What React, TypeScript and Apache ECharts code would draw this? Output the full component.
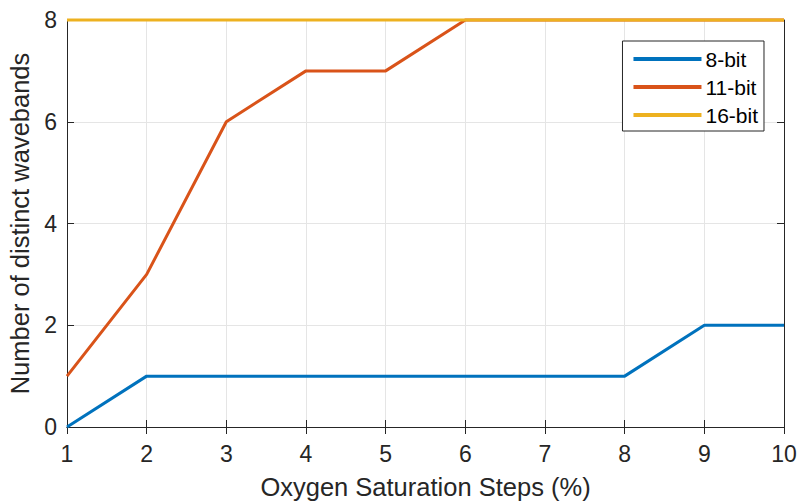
import React, { useEffect, useRef } from "react";
import * as echarts from "echarts";

const steps = [1, 2, 3, 4, 5, 6, 7, 8, 9, 10];
const bit8 = [0, 1, 1, 1, 1, 1, 1, 1, 2, 2];
const bit11 = [1, 3, 6, 7, 7, 8, 8, 8, 8, 8];
const bit16 = [8, 8, 8, 8, 8, 8, 8, 8, 8, 8];
const seriesNames = ["8-bit", "11-bit", "16-bit"];
const colors = ["#0072BD", "#D95319", "#EDB120"];

const FONT = "Liberation Sans, Arial, Helvetica, sans-serif";

export default function App() {
  const ref = useRef<HTMLDivElement>(null);
  useEffect(() => {
    if (!ref.current) return;
    const chart = echarts.init(ref.current, undefined, { renderer: "svg" });
    const pair = (ys: number[]) => steps.map((x, i) => [x, ys[i]]);
    const axisLine = { show: true, lineStyle: { color: "#262626", width: 1 } };
    const tick = { show: true, inside: true, length: 7, lineStyle: { color: "#262626" } };
    chart.setOption({
      animation: false,
      backgroundColor: "#ffffff",
      grid: { left: 67, right: 15, top: 20, bottom: 74, containLabel: false, outerBoundsMode: "none" },
      legend: {
        orient: "vertical",
        right: 35,
        top: 41,
        padding: [7, 6, 5, 11],
        itemGap: 6,
        itemWidth: 68,
        itemHeight: 4,
        icon: "rect",
        borderColor: "#262626",
        borderWidth: 1,
        backgroundColor: "#ffffff",
        textStyle: { fontFamily: FONT, fontSize: 21, lineHeight: 22, color: "#000", padding: [0, 0, 0, -1] },
        data: seriesNames,
      },
      xAxis: [
        {
          type: "value",
          min: 1,
          max: 10,
          interval: 1,
          name: "Oxygen Saturation Steps (%)",
          nameLocation: "middle",
          nameGap: 47,
          nameTextStyle: { fontFamily: FONT, fontSize: 25.5, color: "#262626" },
          axisLine,
          axisTick: tick,
          axisLabel: { fontFamily: FONT, fontSize: 23, color: "#262626", margin: 15 },
          splitLine: { show: true, lineStyle: { color: "#e5e5e5", width: 1 } },
        },
        {
          type: "value",
          position: "top",
          min: 1,
          max: 10,
          interval: 1,
          axisLine,
          axisTick: tick,
          axisLabel: { show: false },
          splitLine: { show: false },
        },
      ],
      yAxis: [
        {
          type: "value",
          min: 0,
          max: 8,
          interval: 2,
          name: "Number of distinct wavebands",
          nameLocation: "middle",
          nameGap: 30,
          nameTextStyle: { fontFamily: FONT, fontSize: 25.5, color: "#262626" },
          axisLine,
          axisTick: tick,
          axisLabel: { fontFamily: FONT, fontSize: 23, color: "#262626", margin: 10 },
          splitLine: { show: true, lineStyle: { color: "#e5e5e5", width: 1 } },
        },
        {
          type: "value",
          position: "right",
          min: 0,
          max: 8,
          interval: 2,
          axisLine,
          axisTick: tick,
          axisLabel: { show: false },
          splitLine: { show: false },
        },
      ],
      series: [bit8, bit11, bit16].map((ys, i) => ({
        name: seriesNames[i],
        type: "line",
        data: pair(ys),
        showSymbol: false,
        symbol: "none",
        color: colors[i],
        lineStyle: { color: colors[i], width: 3 },
        clip: false,
        z: 3 + i,
      })),
    });
    return () => chart.dispose();
  }, []);
  return <div ref={ref} style={{ width: 799, height: 501, position: "absolute", left: 0, top: 0 }} />;
}
